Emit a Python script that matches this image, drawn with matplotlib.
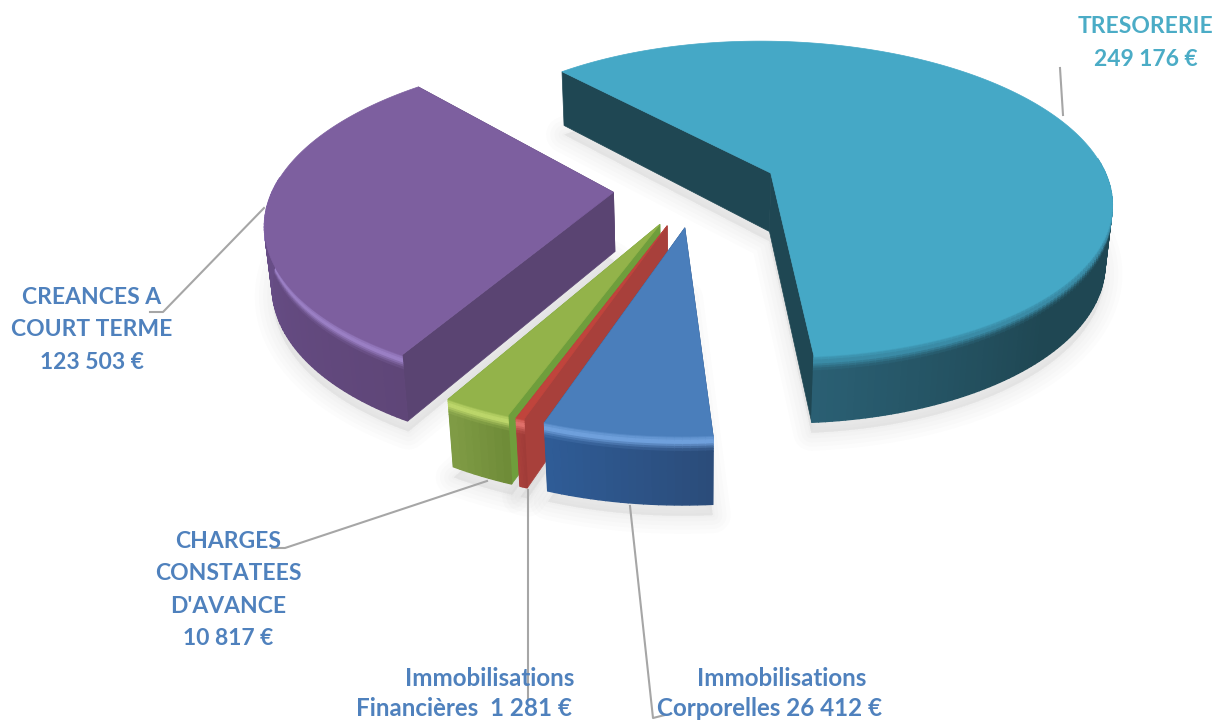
import numpy as np
import matplotlib
matplotlib.use("Agg")
import matplotlib.pyplot as plt
from matplotlib.colors import to_rgb
from matplotlib.patches import Polygon

plt.rcParams["font.family"] = ["Lato", "DejaVu Sans"]

# --- data, clockwise from the first slice ---
names = ["Immobilisations", "Immobilisations", "CHARGES\nCONSTATEES\nD'AVANCE",
         "CREANCES A\nCOURT TERME", "TRESORERIE"]
values = [26412, 1281, 10817, 123503, 249176]
first_angle = 175.9

# --- colours: top, bevel light, side a, side b, cut face ---
tops = ["#4a7ebb", "#c0443c", "#93b34a", "#7d5f9f", "#45a8c6"]
bevels = ["#6fa0dc", "#e0706a", "#bcd66a", "#9a7fc4", "#3a8ba6"]
sides_a = ["#2b4c7a", "#a03c38", "#6f8c38", "#5f4678", "#1f4753"]
sides_b = ["#2f5c96", "#a8403b", "#7f9b45", "#705596", "#2a5f73"]
cuts = ["#2b4c7a", "#a8403b", "#6f9e3c", "#5a4472", "#1f4753"]

# --- projection of the pie plane to pixels ---
cx, cy = 696, 188
radius_px = 340
explode = 0.243
thick = 0.2
elev = np.radians(27.8)
dist = 5.3


def project(u, v, z=0.0):
    u, v, z = np.asarray(u, float), np.asarray(v, float), np.asarray(z, float)
    big_y = v * np.sin(elev) + z * np.cos(elev)
    depth = v * np.cos(elev) - z * np.sin(elev)
    s = radius_px * dist / (dist + depth)
    return cx + u * s, cy - big_y * s


def mix(c1, c2, t):
    a, b = np.array(to_rgb(c1)), np.array(to_rgb(c2))
    return tuple(a + (b - a) * t)


fig = plt.figure(figsize=(12.23, 7.24), dpi=100)
ax = fig.add_axes([0, 0, 1, 1])
ax.set_xlim(0, 1223)
ax.set_ylim(724, 0)
ax.axis("off")

sweeps = np.array(values) / sum(values) * 360
starts = first_angle + np.concatenate([[0], np.cumsum(sweeps)[:-1]])

wedges = []
for i in range(len(values)):
    a0, a1 = starts[i], starts[i] + sweeps[i]
    mid = np.radians((a0 + a1) / 2)
    ou, ov = explode * np.sin(mid), explode * np.cos(mid)
    th = np.radians(np.linspace(a0, a1, max(int(sweeps[i]), 6)))
    wedges.append((ou, ov, ou + np.sin(th), ov + np.cos(th), th))

# soft shadow below everything
for ou, ov, ru, rv, th in wedges:
    xs, ys = project(np.r_[ou, ru], np.r_[ov, rv], -thick - 0.02)
    pts = np.c_[xs, ys + 4]
    for lw in [26, 20, 14, 8, 3]:
        ax.add_patch(Polygon(pts, closed=True, fc="#b0b0b0", ec="#b0b0b0", lw=lw, alpha=0.035,
                             joinstyle="round", zorder=1))

# leader lines
leaders = [([1060, 1063], [68, 115]),
           ([264, 163, 150], [208, 312, 312]),
           ([487, 285, 272], [481, 548, 548]),
           ([528, 528], [490, 700]),
           ([630, 653, 665], [506, 718, 715])]
for lx, ly in leaders:
    ax.plot(lx, ly, color="#a6a6a6", lw=1.5, zorder=2)

# back slices first
levels = [0, -0.006, -0.012, -0.018, -0.024, -0.03, -0.036, -0.044, -thick]
for i in [4, 3, 2, 1, 0]:
    ou, ov, ru, rv, th = wedges[i]
    zo = 3 + (4 - i) * 0.1

    # flat cut faces
    for k in [0, -1]:
        xs0, ys0 = project([ou, ru[k]], [ov, rv[k]], 0)
        xs1, ys1 = project([ru[k], ou], [rv[k], ov], -thick)
        ax.add_patch(Polygon(np.c_[np.r_[xs0, xs1], np.r_[ys0, ys1]], closed=True,
                             fc=cuts[i], ec=cuts[i], lw=0.5, zorder=zo))

    # outer rim, one quad per step so the colour can drift; back part stays hidden
    for j in range(len(ru) - 1):
        if np.cos(th[j:j + 2]).mean() > 0.1:
            continue
        t = j / max(len(ru) - 2, 1)
        if i == 4:
            t = max(0, (t - 0.82) / 0.18)
        side = mix(sides_a[i], sides_b[i], t)
        shades = [mix(tops[i], bevels[i], 0.35), mix(tops[i], bevels[i], 0.7), bevels[i], bevels[i],
                  mix(bevels[i], side, 0.3), mix(bevels[i], side, 0.6), mix(bevels[i], side, 0.85), side]
        for m in range(len(levels) - 1):
            xa, ya = project(ru[j:j + 2], rv[j:j + 2], levels[m])
            xb, yb = project(ru[j:j + 2][::-1], rv[j:j + 2][::-1], levels[m + 1])
            ax.add_patch(Polygon(np.c_[np.r_[xa, xb], np.r_[ya, yb]], closed=True,
                                 fc=shades[m], ec=shades[m], lw=1.0, zorder=zo + 0.01))

    # top face
    xs, ys = project(np.r_[ou, ru], np.r_[ov, rv], 0)
    ax.add_patch(Polygon(np.c_[xs, ys], closed=True, fc=tops[i], ec=tops[i], lw=0.5, zorder=zo + 0.02))


# labels
def money(v):
    return f"{v:,}".replace(",", " ") + " €"


blue_txt = "#4f81bd"
teal_txt = "#4bacc6"
big_labels = [(228, 590, names[2] + "\n" + money(values[2]), blue_txt),
              (92, 330, names[3] + "\n" + money(values[3]), blue_txt),
              (1146, 43, names[4] + "\n" + money(values[4]), teal_txt)]
for lx, ly, txt, col in big_labels:
    ax.text(lx, ly, txt, ha="center", va="center", color=col, fontsize=16.5, fontweight="bold",
            linespacing=1.66, zorder=10)

small_labels = [(782, 678, names[0]), (770, 709, "Corporelles " + money(values[0])),
                (490, 678, names[1]), (464, 709, "Financières  " + money(values[1]))]
for lx, ly, txt in small_labels:
    ax.text(lx, ly, txt, ha="center", va="center", color=blue_txt, fontsize=17.4, fontweight="bold", zorder=10)

fig.savefig("out.png", dpi=100, facecolor="white")
